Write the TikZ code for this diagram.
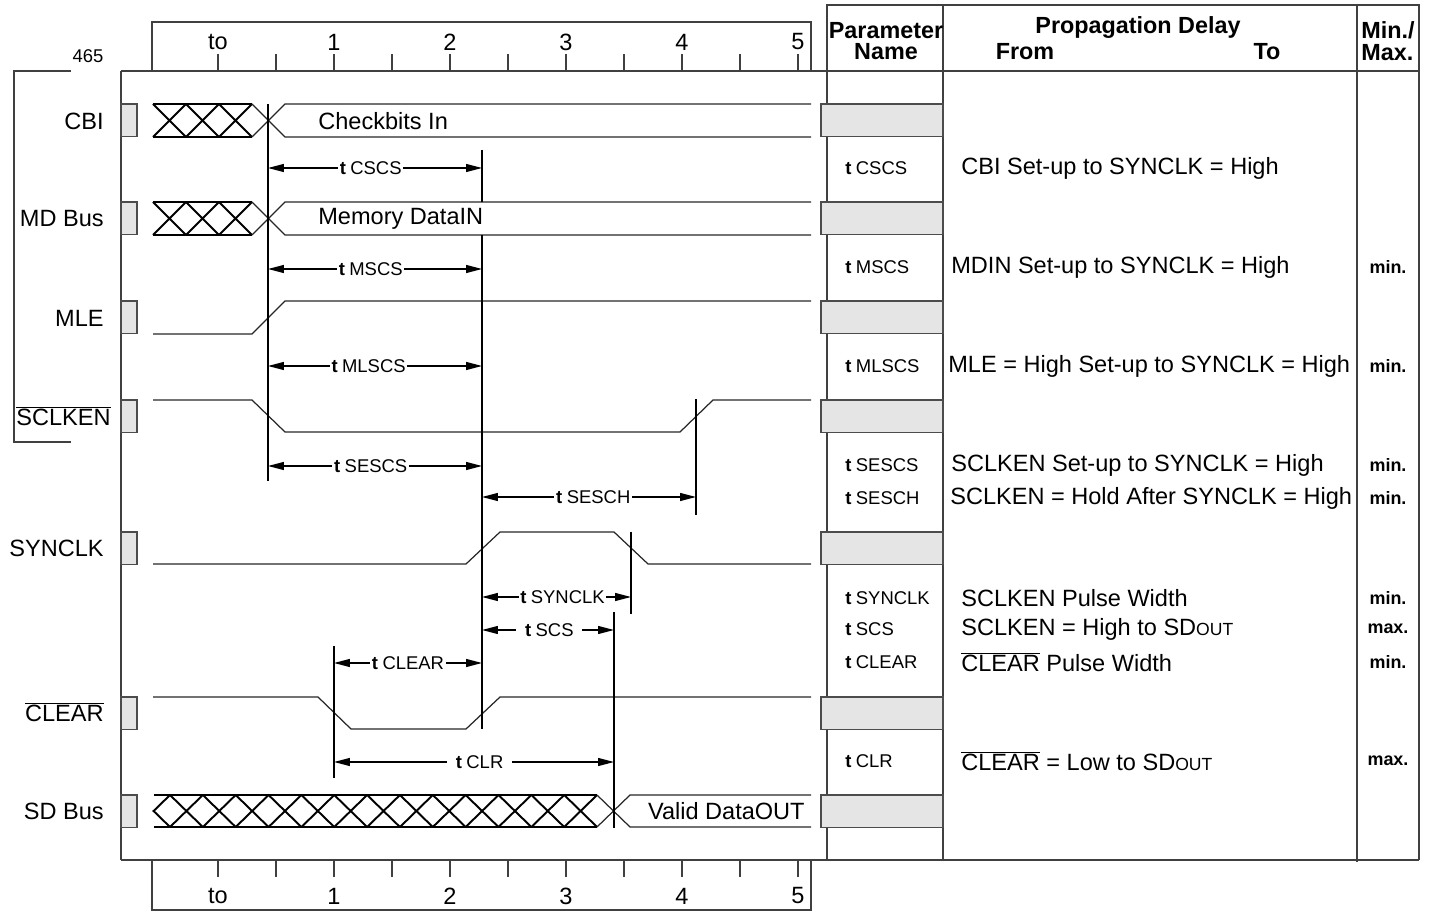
\documentclass[tikz,border=0pt]{standalone}
\usepackage{fontspec}
\setmainfont{Liberation Sans}
\usetikzlibrary{arrows.meta}
\newcommand{\tname}[1]{\textbf{t}\kern2.5pt#1}
\newcommand{\sdout}{SD{\fontsize{10}{10}\selectfont OUT}}
\newcommand{\ovl}[1]{$\overline{\mbox{#1}}$}
\begin{document}
\begin{tikzpicture}[x=0.02cm,y=-0.02cm,
  lbl/.style={font=\fontsize{13.4}{15}\selectfont,inner sep=0pt},
  sm/.style={font=\fontsize{10.5}{12}\selectfont,inner sep=0pt},
  hdr/.style={font=\fontsize{13.3}{12.4}\selectfont\bfseries,inner sep=0pt},
  mm/.style={font=\fontsize{10.2}{12}\selectfont\bfseries,inner sep=0pt},
  frame/.style={draw=black!75,line width=0.9pt},
  sig/.style={black!85,line width=0.7pt},
  hatch/.style={black,line width=1.1pt},
  guide/.style={black,line width=1pt},
  dim/.style={black,line width=0.7pt,{Triangle[length=9pt,width=4.5pt]}-{Triangle[length=9pt,width=4.5pt]}},
  dlbl/.style={sm,fill=white,inner xsep=1pt,inner ysep=0pt},
  gbox/.style={draw=black!70,fill=gray!20,line width=0.8pt}]
\useasboundingbox (0,0) rectangle (1429,911);
% frame, rulers and table
\draw[frame] (121,71) -- (121,860) (121,71) -- (1419,71) (121,860) -- (1419,860);
\draw[frame] (827,860) -- (827,5) -- (1419,5) -- (1419,860);
\draw[frame] (943,5) -- (943,860) (1357,5) -- (1357,862);
\draw[frame] (152,71) -- (152,22) -- (811,22) -- (811,71);
\draw[frame] (152,860) -- (152,910) -- (811,910) -- (811,860);
\foreach \i in {0,...,10} {
  \draw[frame] ({218+58*\i},54) -- ({218+58*\i},71);
  \draw[frame] ({218+58*\i},860) -- ({218+58*\i},877);
}
\foreach \t/\i in {to/0,1/2,2/4,3/6,4/8,5/10} {
  \node[lbl] (top\i) at ({218+58*\i},42) {\t};
  \node[lbl] (bot\i) at ({218+58*\i},896) {\t};
}
% left bracket
\draw[frame] (71,71) -- (14,71) -- (14,442) -- (71,442);
\node[sm] (num) at (88,56) {465};
% gray boxes
\foreach \y in {104,202,301,400,532,697,795} {
  \draw[gbox] (121,\y) rectangle (137,\y+32.5);
  \draw[gbox] (821,\y) rectangle (943,\y+32.5);
}
% signal names
\node[lbl,anchor=east] (nCBI) at (104,121) {CBI};
\node[lbl,anchor=east] (nMD) at (104,219) {MD Bus};
\node[lbl,anchor=east] (nMLE) at (104,318) {MLE};
\node[lbl,anchor=east] (nSE) at (111,416) {\ovl{SCLKEN}};
\node[lbl,anchor=east] (nSY) at (104,548) {SYNCLK};
\node[lbl,anchor=east] (nCL) at (104,712) {\ovl{CLEAR}};
\node[lbl,anchor=east] (nSD) at (104,811) {SD Bus};
% buses CBI and MD
\foreach \y/\txt in {104/Checkbits In,202/Memory DataIN} {
  \draw[hatch] (153,\y) -- (252,\y) (153,\y+33) -- (252,\y+33);
  \foreach \x in {153,186,219} \draw[hatch] (\x,\y) -- ++(33,33) (\x,\y+33) -- ++(33,-33);
  \draw[sig] (252,\y) -- (285,\y+33) -- (811,\y+33) (252,\y+33) -- (285,\y) -- (811,\y);
  \node[lbl,anchor=west] at (318,\y+17) {\txt};
}
% single lines
\draw[sig] (153,334) -- (252,334) -- (285,301) -- (811,301);
\draw[sig] (153,400) -- (252,400) -- (285,432) -- (680,432) -- (713,400) -- (811,400);
\draw[sig] (153,564) -- (466,564) -- (500,532) -- (614,532) -- (648,564) -- (811,564);
\draw[sig] (153,697) -- (318,697) -- (351,729) -- (466,729) -- (500,697) -- (811,697);
% SD bus
\draw[hatch] (153.6,795) -- (597,795) (153.6,827) -- (597,827);
\draw[hatch] (170,795) -- (153.6,811) -- (170,827);
\foreach \k in {0,...,12} \draw[hatch] ({170+32.85*\k},795) -- ++(32.85,32) ({170+32.85*\k},827) -- ++(32.85,-32);
\draw[sig] (597,795) -- (630,827) -- (811,827) (597,827) -- (630,795) -- (811,795);
\node[lbl,anchor=east] (valid) at (805,811) {Valid DataOUT};
% guide lines
\draw[guide] (268,104) -- (268,481) (482,150) -- (482,202) (482,235) -- (482,729)
  (696,399) -- (696,515) (631,532) -- (631,614) (334,646) -- (334,778) (614,612) -- (614,828);
% timing arrows
\draw[dim] (268,168) -- node[dlbl,pos=.48] {\tname{CSCS}} (482,168);
\draw[dim] (268,269) -- node[dlbl,pos=.48] {\tname{MSCS}} (482,269);
\draw[dim] (268,366) -- node[dlbl,pos=.47] {\tname{MLSCS}} (482,366);
\draw[dim] (268,466) -- node[dlbl,pos=.48] {\tname{SESCS}} (482,466);
\draw[dim] (482,497) -- node[dlbl,pos=.52] {\tname{SESCH}} (696,497);
\draw[dim] (482,597) -- node[dlbl,pos=.54] {\tname{SYNCLK}} (631,597);
\draw[dim] (482,630) -- node[dlbl,pos=.51,inner xsep=5pt] {\tname{SCS}} (614,630);
\draw[dim] (334,663) -- node[dlbl,pos=.5] {\tname{CLEAR}} (482,663);
\draw[dim] (334,762) -- node[dlbl,pos=.52,inner xsep=5pt] {\tname{CLR}} (614,762);
% table header
\node[hdr,align=center] (hpar) at (886,41) {Parameter\\Name};
\node[hdr] (hprop) at (1138,28) {Propagation Delay};
\node[hdr] (hfrom) at (1025,52) {From};
\node[hdr] (hto) at (1267,52) {To};
\node[hdr,align=left,anchor=west] (hmm) at (1361,41) {Min./\\Max.};
% table rows
\foreach \y/\p/\d/\m/\dx in {
  168/CSCS/CBI Set-up to SYNCLK = High//961,
  267/MSCS/MDIN Set-up to SYNCLK = High/min./951,
  366/MLSCS/MLE = High Set-up to SYNCLK = High/min./948,
  465/SESCS/SCLKEN Set-up to SYNCLK = High/min./951,
  498/SESCH/SCLKEN = Hold After SYNCLK = High/min./950,
  598/SYNCLK/SCLKEN Pulse Width/min./961,
  629/SCS/SCLKEN = High to \sdout/max./961,
  662/CLEAR/\ovl{CLEAR} Pulse Width/min./961,
  761/CLR/\ovl{CLEAR} = Low to \sdout/max./961} {
  \node[sm,anchor=west] (p\y) at (845,\y) {\tname{\p}};
  \node[lbl,anchor=west] (d\y) at (\dx,\y) {\d};
  \node[mm] (m\y) at (1388,\y) {\m};
}
\end{tikzpicture}
\end{document}
